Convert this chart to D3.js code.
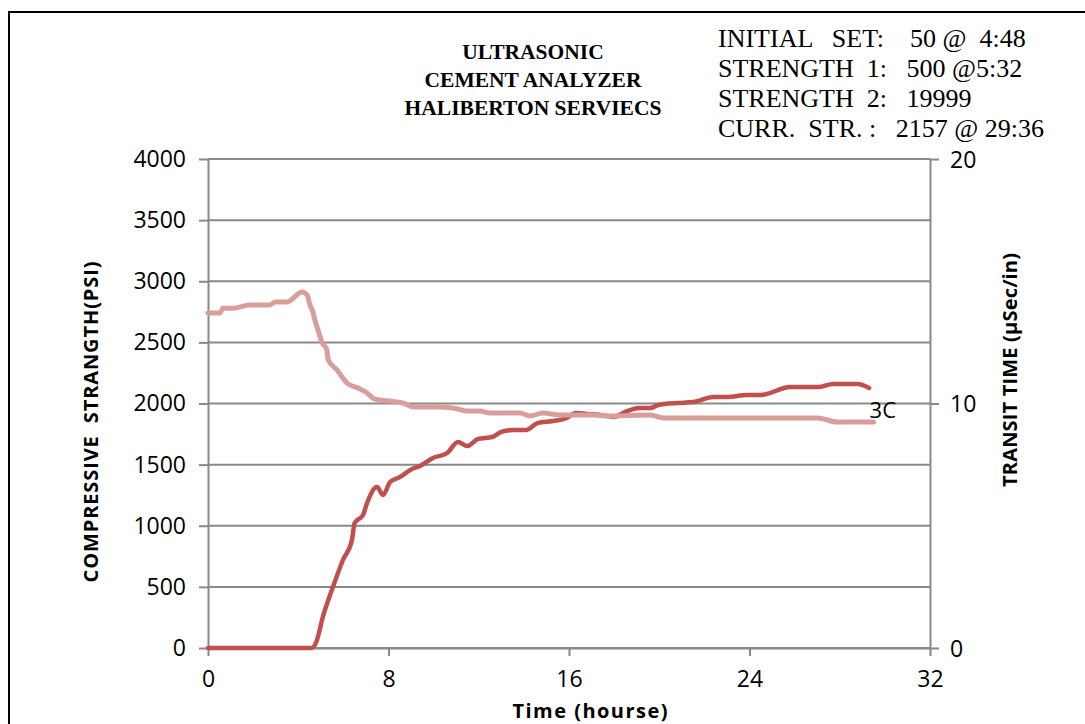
<!DOCTYPE html>
<html>
<head>
<meta charset="utf-8">
<script src="https://cdn.jsdelivr.net/npm/d3@7"></script>
<style>
  body { margin: 0; background: #fff; }
  svg { display: block; }
</style>
</head>
<body>
<div id="chart"></div>
<script>
// chart data
var strengthHours = [0, 4.6, 4.8, 5.1, 5.54, 5.98, 6.38, 6.5, 6.87, 7.05, 7.49, 7.76, 8.07, 8.51, 9.04, 9.4, 9.97, 10.6, 11.08, 11.5,
  11.97, 12.6, 13.0, 13.5, 14.1, 14.6, 15.3, 15.9, 16.3, 16.8, 17.4, 17.95, 18.6, 19.1, 19.6, 19.95, 20.8, 21.5, 22.4, 23.0,
  23.9, 24.5, 25.8, 27.1, 27.7, 28.8, 29.3];
var strengthPsi = [0, 0, 50, 260, 500, 720, 884, 1022, 1088, 1186, 1317, 1251, 1358, 1399, 1464, 1489, 1554, 1595, 1685, 1652,
  1710, 1726, 1767, 1783, 1783, 1840, 1857, 1881, 1922, 1914, 1906, 1890, 1939, 1963, 1963, 1988, 2004, 2012, 2053, 2053,
  2070, 2070, 2135, 2135, 2160, 2160, 2127];

var transitHours = [0, 0.53, 0.66, 1.1, 1.86, 2.75, 2.97, 3.5, 4.17, 4.39, 4.52, 4.65, 4.74, 4.88, 5.05, 5.27, 5.32, 5.72,
  5.98, 6.16, 6.65, 7.05, 7.31, 7.62, 8.07, 8.64, 9.09, 10.15, 10.86, 11.48, 12.06, 12.5, 13.83, 14.27, 14.85, 15.6, 17.07,
  17.8, 19.6, 20.17, 27.0, 27.9, 29.5];
var transitValues = [13.7, 13.7, 13.9, 13.9, 14.03, 14.03, 14.15, 14.15, 14.56, 14.44, 14.03, 13.74, 13.4, 13.0, 12.5, 12.2,
  11.8, 11.37, 11.04, 10.84, 10.63, 10.43, 10.22, 10.14, 10.1, 10.02, 9.86, 9.86, 9.82, 9.69, 9.69, 9.61, 9.61, 9.49, 9.61,
  9.53, 9.53, 9.49, 9.53, 9.41, 9.41, 9.24, 9.24];

var xTicks = [0, 8, 16, 24, 32];
var leftTicks = [0, 500, 1000, 1500, 2000, 2500, 3000, 3500, 4000];
var rightTicks = [0, 10, 20];

var titleLines = ["ULTRASONIC", "CEMENT ANALYZER", "HALIBERTON SERVIECS"];
var infoLines = ["INITIAL   SET:    50 @  4:48", "STRENGTH  1:   500 @5:32", "STRENGTH  2:   19999", "CURR.  STR. :   2157 @ 29:36"];
var seriesLabel = "3C";

var width = 1085, height = 724;
var svg = d3.select("#chart").append("svg").attr("width", width).attr("height", height);

var tickFont = "'Open Sans', 'Noto Sans', sans-serif";
var serifFont = "'Liberation Serif', serif";
var gray = "#898989";

// outer frame
svg.append("rect")
  .attr("x", 9).attr("y", 12).attr("width", 1100).attr("height", 740)
  .attr("fill", "none").attr("stroke", "#000").attr("stroke-width", 2);

var x = d3.scaleLinear().domain([0, 32]).range([208, 930]);
var yL = d3.scaleLinear().domain([0, 4000]).range([648, 159]);
var yR = d3.scaleLinear().domain([0, 20]).range([648, 159]);

// gridlines
svg.append("g").selectAll("line")
  .data(leftTicks)
  .enter().append("line")
  .attr("x1", x(0)).attr("x2", x(32))
  .attr("y1", function(d) { return yL(d); })
  .attr("y2", function(d) { return yL(d); })
  .attr("stroke", gray).attr("stroke-width", 2);

// left axis
var gl = svg.append("g")
  .attr("transform", "translate(" + x(0) + ",0)")
  .call(d3.axisLeft(yL).tickValues(leftTicks).tickSizeInner(9).tickSizeOuter(0).tickPadding(13).tickFormat(d3.format("d")));

// right axis
var gr = svg.append("g")
  .attr("transform", "translate(" + x(32) + ",0)")
  .call(d3.axisRight(yR).tickValues(rightTicks).tickSizeInner(9).tickSizeOuter(0).tickPadding(11));

// bottom axis
var gb = svg.append("g")
  .attr("transform", "translate(0," + yL(0) + ")")
  .call(d3.axisBottom(x).tickValues(xTicks).tickSizeInner(8).tickSizeOuter(0).tickPadding(11));

[gl, gr, gb].forEach(function(g) {
  g.select(".domain").attr("stroke", gray).attr("stroke-width", 2);
  g.selectAll(".tick line").attr("stroke", gray).attr("stroke-width", 2);
  g.selectAll(".tick text").attr("fill", "#000").style("font-family", tickFont).style("font-size", "23px");
});
gb.selectAll(".tick text").attr("dy", "0.85em");
gr.selectAll(".tick text").attr("dy", "0.36em");

// lines
var strengthLine = d3.line()
  .x(function(d, i) { return x(strengthHours[i]); })
  .y(function(d) { return yL(d); })
  .curve(d3.curveMonotoneX);

var transitLine = d3.line()
  .x(function(d, i) { return x(transitHours[i]); })
  .y(function(d) { return yR(d); })
  .curve(d3.curveMonotoneX);

svg.append("path")
  .datum(strengthPsi)
  .attr("d", strengthLine)
  .attr("fill", "none").attr("stroke", "#C0504D").attr("stroke-width", 4.5)
  .attr("stroke-linejoin", "round").attr("stroke-linecap", "round");

svg.append("path")
  .datum(transitValues)
  .attr("d", transitLine)
  .attr("fill", "none").attr("stroke", "#D99E9C").attr("stroke-width", 5)
  .attr("stroke-linejoin", "round").attr("stroke-linecap", "round");

svg.append("text")
  .attr("x", x(29.5) - 4).attr("y", 418)
  .style("font-family", tickFont).style("font-size", "22px")
  .text(seriesLabel);

// axis titles
svg.append("text")
  .attr("transform", "translate(98,422) rotate(-90)")
  .attr("text-anchor", "middle")
  .attr("textLength", 321).attr("lengthAdjust", "spacing")
  .style("font-family", tickFont).style("font-size", "20px").style("font-weight", "bold")
  .style("white-space", "pre")
  .text("COMPRESSIVE  STRANGTH(PSI)");

svg.append("text")
  .attr("transform", "translate(1017,370) rotate(-90)")
  .attr("text-anchor", "middle")
  .attr("textLength", 234).attr("lengthAdjust", "spacing")
  .style("font-family", tickFont).style("font-size", "20px").style("font-weight", "bold")
  .text("TRANSIT TIME (\u00b5Sec/in)");

svg.append("text")
  .attr("x", 590).attr("y", 718)
  .attr("text-anchor", "middle")
  .attr("textLength", 155).attr("lengthAdjust", "spacing")
  .style("font-family", tickFont).style("font-size", "20px").style("font-weight", "bold")
  .text("Time (hourse)");

// title block
svg.append("g").selectAll("text")
  .data(titleLines)
  .enter().append("text")
  .attr("x", 533)
  .attr("y", function(d, i) { return 59 + i * 28; })
  .attr("text-anchor", "middle")
  .style("font-family", serifFont).style("font-size", "21.5px").style("font-weight", "bold")
  .text(function(d) { return d; });

// info block
svg.append("g").selectAll("text")
  .data(infoLines)
  .enter().append("text")
  .attr("x", 718)
  .attr("y", function(d, i) { return 47 + i * 30; })
  .style("font-family", serifFont).style("font-size", "26px")
  .style("white-space", "pre")
  .text(function(d) { return d; });
</script>
</body>
</html>
